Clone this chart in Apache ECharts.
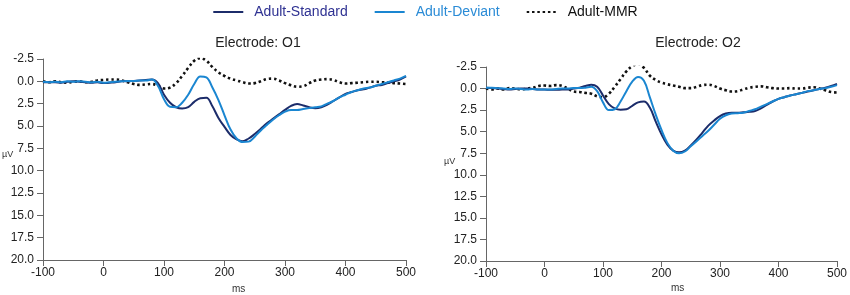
<!DOCTYPE html>
<html>
<head>
<meta charset="utf-8">
<script src="https://cdn.jsdelivr.net/npm/echarts@6/dist/echarts.min.js"></script>
<style>html,body{margin:0;padding:0;background:#fff}#c{width:850px;height:295px}</style>
</head>
<body>
<div id="c"></div>
<script>
// time points (ms)
var times = [-100,-90,-80,-70,-60,-50,-40,-30,-20,-10,0,10,20,30,40,50,60,70,80,90,100,110,120,130,140,150,160,170,180,190,200,210,220,230,240,250,260,270,280,290,300,310,320,330,340,350,360,370,380,390,400,410,420,430,440,450,460,470,480,490,500];

// Electrode O1
var o1Standard = [0.1,0.1,0.1,0.15,0.05,0.0,0.05,0.1,0.15,0.1,0.2,0.15,0.1,0.0,0.0,-0.05,-0.1,-0.15,-0.2,0.2,1.5,2.4,2.9,3.05,2.9,2.3,1.9,1.85,2.8,4.1,5.1,6.0,6.5,6.7,6.4,5.9,5.3,4.7,4.2,3.7,3.2,2.75,2.55,2.7,2.9,3.0,2.9,2.6,2.2,1.8,1.4,1.2,1.0,0.9,0.7,0.5,0.4,0.2,0.0,-0.2,-0.55];
var o1Deviant = [0.05,0.1,0.05,0.1,0.0,0.05,0.0,0.05,0.1,0.05,0.15,0.1,0.05,0.0,-0.05,-0.05,-0.1,-0.1,-0.2,0.5,2.0,2.85,2.9,2.4,1.5,0.3,-0.55,-0.45,0.7,2.1,3.8,5.4,6.4,6.8,6.75,6.2,5.5,4.9,4.3,3.8,3.4,3.2,3.2,3.1,3.0,2.9,2.8,2.5,2.2,1.8,1.5,1.2,1.0,0.8,0.7,0.5,0.3,0.1,-0.1,-0.3,-0.6];
var o1MMR = [0.0,0.1,0.0,0.1,0.15,0.05,0.0,0.1,0.05,-0.1,-0.15,-0.2,-0.2,-0.1,0.1,0.3,0.4,0.35,0.3,0.5,0.8,0.7,0.2,-0.6,-1.5,-2.3,-2.6,-2.3,-1.6,-1.0,-0.6,-0.3,-0.1,0.1,0.25,0.2,0.0,-0.25,-0.3,-0.1,0.2,0.45,0.6,0.55,0.2,-0.1,-0.2,-0.25,-0.15,0.1,0.25,0.2,0.15,0.1,0.05,0.05,0.1,0.15,0.2,0.25,0.3];

// Electrode O2
var o2Standard = [-0.1,-0.05,0.0,0.05,0.1,0.05,0.0,0.0,0.05,0.1,0.1,0.15,0.15,0.1,0.1,0.0,-0.1,-0.3,-0.45,-0.2,0.8,1.8,2.3,2.45,2.4,2.0,1.6,1.5,2.2,3.8,5.3,6.5,7.2,7.4,7.2,6.6,5.9,5.1,4.3,3.7,3.2,2.9,2.8,2.8,2.75,2.7,2.6,2.3,1.9,1.5,1.2,1.0,0.8,0.65,0.5,0.35,0.2,0.05,-0.1,-0.3,-0.55];
var o2Deviant = [-0.1,-0.1,-0.05,0.0,0.05,0.0,0.05,0.1,0.05,0.1,0.1,0.1,0.05,0.0,0.0,-0.05,-0.05,-0.1,-0.2,0.3,1.6,2.5,2.4,1.5,0.3,-0.8,-1.35,-0.9,1.0,3.0,4.8,6.3,7.2,7.5,7.3,6.7,6.1,5.5,4.9,4.2,3.5,3.1,2.9,2.85,2.8,2.6,2.4,2.1,1.8,1.5,1.2,1.0,0.8,0.65,0.5,0.3,0.2,0.05,-0.05,-0.2,-0.4];
var o2MMR = [0.0,0.1,0.0,0.1,-0.05,0.0,0.1,0.0,-0.1,-0.3,-0.35,-0.3,-0.4,-0.3,0.0,0.35,0.4,0.5,0.6,0.9,1.0,0.6,-0.2,-1.1,-2.0,-2.6,-2.85,-2.4,-1.5,-1.0,-0.7,-0.5,-0.35,-0.2,-0.05,-0.05,-0.2,-0.4,-0.45,-0.3,0.0,0.2,0.35,0.3,0.1,-0.1,-0.2,-0.25,-0.15,-0.05,0.0,0.0,-0.05,0.0,0.0,-0.1,-0.15,0.0,0.2,0.4,0.45];

var xTicks = [-100, 0, 100, 200, 300, 400, 500];
var yTicks = [-2.5, 0, 2.5, 5, 7.5, 10, 12.5, 15, 17.5, 20];
var seriesNames = ['Adult-Standard', 'Adult-Deviant', 'Adult-MMR'];
var titles = ['Electrode: O1', 'Electrode: O2'];

function pairs(vals) { return times.map(function (t, i) { return [t, vals[i]]; }); }

var colStd = '#1c2c6a', colDev = '#1a86d1', colMMR = '#111';
var font = 'Liberation Sans, Arial, sans-serif';

function xAxis(gi) {
  return {
    type: 'value', gridIndex: gi, min: xTicks[0], max: xTicks[xTicks.length - 1], interval: 100,
    axisLine: { onZero: false, lineStyle: { color: '#666', width: 1 } },
    axisTick: { length: 6, lineStyle: { color: '#666' } },
    axisLabel: { color: '#222', fontSize: 12, fontFamily: font, margin: 7 },
    splitLine: { show: false }
  };
}
function yAxis(gi) {
  return {
    type: 'value', gridIndex: gi, inverse: true, min: yTicks[0], max: yTicks[yTicks.length - 1], interval: 2.5,
    axisLine: { show: true, onZero: false, lineStyle: { color: '#666', width: 1 } },
    axisTick: { show: true, length: 6, lineStyle: { color: '#666' } },
    axisLabel: { color: '#222', fontSize: 12, fontFamily: font, margin: 9, formatter: function (v) { return v.toFixed(1); } },
    splitLine: { show: false }
  };
}
function lineSeries(name, data, gi, color, dotted) {
  return {
    name: name, type: 'line', xAxisIndex: gi, yAxisIndex: gi, data: pairs(data),
    smooth: 0.4, symbol: 'none', z: dotted ? 1 : 2,
    lineStyle: dotted ? { color: color, width: 2.6, type: [2.5, 2.8] } : { color: color, width: 2 },
    itemStyle: { color: color }
  };
}

var chart = echarts.init(document.getElementById('c'), null, { renderer: 'canvas' });
chart.setOption({
  animation: false,
  backgroundColor: '#fff',
  title: [
    { text: titles[0], left: 253, top: 31, textAlign: 'center', textStyle: { fontSize: 14, fontWeight: 'normal', color: '#222', fontFamily: font } },
    { text: titles[1], left: 693, top: 31, textAlign: 'center', textStyle: { fontSize: 14, fontWeight: 'normal', color: '#222', fontFamily: font } }
  ],
  legend: {
    top: 0, left: 'center', itemWidth: 30, itemHeight: 10, itemGap: 26,
    itemStyle: { opacity: 0 },
    textStyle: { fontSize: 14, fontFamily: font, padding: [0, 0, 0, 6] },
    data: [
      { name: seriesNames[0], textStyle: { color: '#2e3192' } },
      { name: seriesNames[1], textStyle: { color: '#2a8bd6' } },
      { name: seriesNames[2], textStyle: { color: '#111' } }
    ]
  },
  grid: [
    { left: 43, right: 444, top: 59, bottom: 35 },
    { left: 486, right: 10, top: 67, bottom: 34 }
  ],
  xAxis: [xAxis(0), xAxis(1)],
  yAxis: [yAxis(0), yAxis(1)],
  graphic: [
    { type: 'text', left: 2, top: 150, style: { text: 'µV', fontSize: 9, fill: '#333', fontFamily: font } },
    { type: 'text', left: 444, top: 157, style: { text: 'µV', fontSize: 9, fill: '#333', fontFamily: font } },
    { type: 'text', left: 232, top: 284, style: { text: 'ms', fontSize: 10, fill: '#333', fontFamily: font } },
    { type: 'text', left: 671, top: 283, style: { text: 'ms', fontSize: 10, fill: '#333', fontFamily: font } }
  ],
  series: [
    lineSeries(seriesNames[2], o1MMR, 0, colMMR, true),
    lineSeries(seriesNames[0], o1Standard, 0, colStd, false),
    lineSeries(seriesNames[1], o1Deviant, 0, colDev, false),
    lineSeries(seriesNames[2], o2MMR, 1, colMMR, true),
    lineSeries(seriesNames[0], o2Standard, 1, colStd, false),
    lineSeries(seriesNames[1], o2Deviant, 1, colDev, false)
  ]
});
</script>
</body>
</html>
